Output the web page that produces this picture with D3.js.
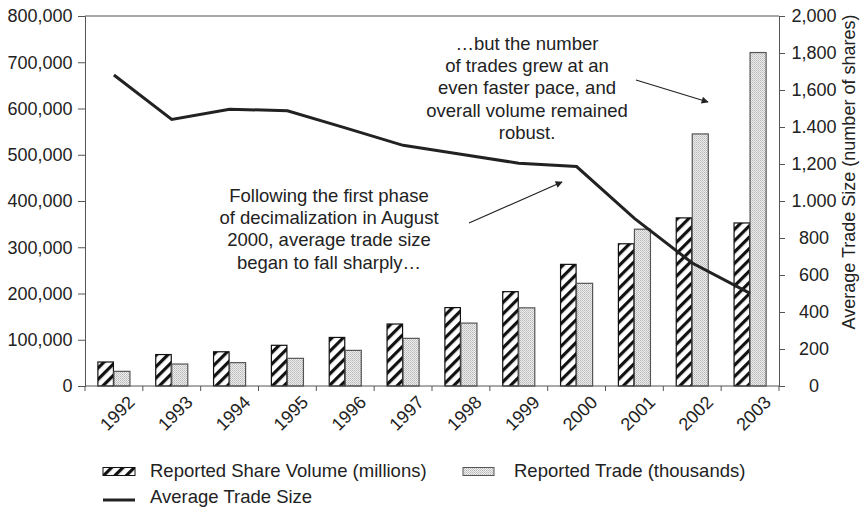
<!DOCTYPE html>
<html>
<head>
<meta charset="utf-8">
<script src="https://cdn.jsdelivr.net/npm/d3@7"></script>
<style>
  html, body { margin: 0; padding: 0; background: #fff; }
  svg { display: block; font-family: "Liberation Sans", Arial, sans-serif; }
</style>
</head>
<body>
<svg id="chart" width="868" height="507"></svg>
<script>
const years = ["1992","1993","1994","1995","1996","1997","1998","1999","2000","2001","2002","2003"];
const shareVolume = [51900, 68000, 74000, 88000, 105000, 134000, 169500, 204000, 263000, 307500, 363500, 352500];
const trades = [31700, 47500, 50500, 59800, 77000, 103000, 136000, 169000, 222000, 339000, 545000, 721000];
const avgTradeSize = [1681, 1441, 1496, 1488, 1395, 1301, 1253, 1204, 1186, 906, 665, 501];
const leftTicks = [0, 100000, 200000, 300000, 400000, 500000, 600000, 700000, 800000];
const rightTicks = [0, 200, 400, 600, 800, 1000, 1200, 1400, 1600, 1800, 2000];
const rightTickLabels = ["0", "200", "400", "600", "800", "1.000", "1,200", "1.400", "1,600", "1,800", "2,000"];
const seriesNames = ["Reported Share Volume (millions)", "Reported Trade (thousands)", "Average Trade Size"];
const rightAxisTitle = "Average Trade Size (number of shares)";
const note1 = ["\u2026but the number", "of trades grew at an", "even faster pace, and", "overall volume remained", "robust."];
const note2 = ["Following the first phase", "of decimalization in August", "2000, average trade size", "began to fall sharply\u2026"];

const svg = d3.select("#chart");
const L = 85, R = 779, T = 16, B = 386;
const ink = "#222";

const defs = svg.append("defs");
const hatch = defs.append("pattern").attr("id", "hatch")
  .attr("patternUnits", "userSpaceOnUse").attr("width", 8).attr("height", 8)
  .attr("patternTransform", "rotate(45)");
hatch.append("rect").attr("width", 8).attr("height", 8).attr("fill", "#fff");
hatch.append("rect").attr("x", 0).attr("y", 0).attr("width", 3.2).attr("height", 8).attr("fill", "#111");

const dots = defs.append("pattern").attr("id", "dots")
  .attr("patternUnits", "userSpaceOnUse").attr("width", 2).attr("height", 2);
dots.append("rect").attr("width", 2).attr("height", 2).attr("fill", "#eeeeee");
dots.append("rect").attr("width", 1).attr("height", 1).attr("fill", "#b8b8b8");
dots.append("rect").attr("x", 1).attr("y", 1).attr("width", 1).attr("height", 1).attr("fill", "#c8c8c8");

const x = d3.scaleBand().domain(years).range([L, R]).padding(0);
const x1 = d3.scaleBand().domain(["vol", "trades"]).range([0, x.bandwidth()]).paddingInner(0).paddingOuter(0.75);
const yL = d3.scaleLinear().domain([0, 800000]).range([B, T]);
const yR = d3.scaleLinear().domain([0, 2000]).range([B, T]);

// top frame line
svg.append("line").attr("x1", L).attr("x2", R).attr("y1", T).attr("y2", T)
  .attr("stroke", "#555").attr("stroke-width", 1);

// bars
const g = svg.append("g");
g.selectAll("rect.vol").data(years).join("rect").attr("class", "vol")
  .attr("x", d => x(d) + x1("vol") + 0.5)
  .attr("y", (d, i) => yL(shareVolume[i]))
  .attr("width", x1.bandwidth() - 1)
  .attr("height", (d, i) => B - yL(shareVolume[i]))
  .attr("fill", "url(#hatch)").attr("stroke", "#111").attr("stroke-width", 1.2);
g.selectAll("rect.tr").data(years).join("rect").attr("class", "tr")
  .attr("x", d => x(d) + x1("trades"))
  .attr("y", (d, i) => yL(trades[i]))
  .attr("width", x1.bandwidth() - 0.5)
  .attr("height", (d, i) => B - yL(trades[i]))
  .attr("fill", "url(#dots)").attr("stroke", "#555").attr("stroke-width", 1.2);

// line
const line = d3.line().x((d, i) => x(years[i]) + x.bandwidth() / 2).y(d => yR(d));
svg.append("path").datum(avgTradeSize).attr("d", line)
  .attr("fill", "none").attr("stroke", ink).attr("stroke-width", 3).attr("stroke-linejoin", "miter");

// left axis
const axL = svg.append("g").attr("transform", `translate(${L},0)`)
  .call(d3.axisLeft(yL).tickValues(leftTicks).tickFormat(d3.format(",")).tickSize(7).tickPadding(5.5));
axL.select(".domain").attr("stroke", "#555");
axL.selectAll(".tick line").attr("stroke", "#555");
axL.selectAll("text").attr("font-size", 18).attr("fill", ink).attr("font-family", null);

// right axis
const axR = svg.append("g").attr("transform", `translate(${R},0)`)
  .call(d3.axisRight(yR).tickValues(rightTicks).tickFormat((d, i) => rightTickLabels[i]).tickSize(6));
axR.select(".domain").attr("stroke", "#555");
axR.selectAll(".tick line").attr("stroke", "#555");
axR.selectAll("text").attr("font-size", 18).attr("fill", ink).attr("font-family", null)
  .attr("x", 35).attr("text-anchor", "middle");

// bottom axis
svg.append("line").attr("x1", L).attr("x2", R).attr("y1", B).attr("y2", B).attr("stroke", "#555");
const bounds = years.map(d => x(d)).concat([x(years[years.length - 1]) + x.bandwidth()]);
svg.selectAll("line.xt").data(bounds).join("line").attr("class", "xt")
  .attr("x1", d => d).attr("x2", d => d).attr("y1", B).attr("y2", B + 5).attr("stroke", "#555");
svg.selectAll("text.yr").data(years).join("text").attr("class", "yr")
  .attr("transform", d => `translate(${x(d) + x.bandwidth() / 2 + 17.5},399) rotate(-45)`)
  .attr("text-anchor", "end").attr("dy", "0.35em")
  .attr("font-size", 18).attr("fill", ink).text(d => d);

// right axis title
svg.append("text").attr("transform", "translate(855,172) rotate(-90)")
  .attr("text-anchor", "middle").attr("font-size", 18).attr("fill", ink).text(rightAxisTitle);

// annotations
svg.append("g").selectAll("text").data(note1).join("text")
  .attr("x", 527).attr("y", (d, i) => 50 + i * 22.2).attr("text-anchor", "middle")
  .attr("font-size", 18.5).attr("fill", ink).text(d => d);
svg.append("g").selectAll("text").data(note2).join("text")
  .attr("x", 329).attr("y", (d, i) => 202 + i * 22.2).attr("text-anchor", "middle")
  .attr("font-size", 18.5).attr("fill", ink).text(d => d);

defs.append("marker").attr("id", "arr").attr("viewBox", "0 0 10 10")
  .attr("refX", 9).attr("refY", 5).attr("markerWidth", 10).attr("markerHeight", 7)
  .attr("markerUnits", "userSpaceOnUse").attr("orient", "auto")
  .append("path").attr("d", "M0,0 L10,5 L0,10 z").attr("fill", ink);
svg.append("line").attr("x1", 636).attr("y1", 80).attr("x2", 708).attr("y2", 102)
  .attr("stroke", ink).attr("stroke-width", 1.2).attr("marker-end", "url(#arr)");
svg.append("line").attr("x1", 469).attr("y1", 223).attr("x2", 562).attr("y2", 182)
  .attr("stroke", ink).attr("stroke-width", 1.2).attr("marker-end", "url(#arr)");

// legend
const lg = svg.append("g");
lg.append("rect").attr("x", 103).attr("y", 467.5).attr("width", 32).attr("height", 8)
  .attr("fill", "url(#hatch)").attr("stroke", "#111");
lg.append("text").attr("x", 150).attr("y", 477).attr("font-size", 18.5).attr("fill", ink).text(seriesNames[0]);
lg.append("rect").attr("x", 463).attr("y", 467.5).attr("width", 31).attr("height", 8)
  .attr("fill", "url(#dots)").attr("stroke", "#555");
lg.append("text").attr("x", 514).attr("y", 477).attr("font-size", 18.5).attr("fill", ink).text(seriesNames[1]);
lg.append("line").attr("x1", 103).attr("x2", 135).attr("y1", 500).attr("y2", 500).attr("stroke", ink).attr("stroke-width", 3);
lg.append("text").attr("x", 150).attr("y", 503).attr("font-size", 18.5).attr("fill", ink).text(seriesNames[2]);
</script>
</body>
</html>
